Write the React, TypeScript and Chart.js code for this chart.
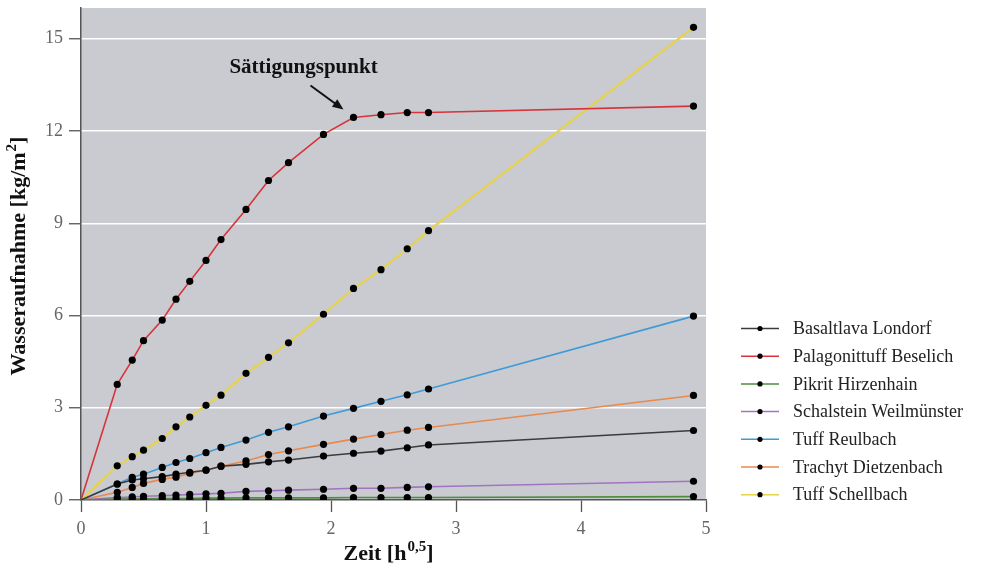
import React, { useEffect, useRef } from "react";
import { Chart, registerables } from "chart.js";

Chart.register(...registerables);

// x values: square root of time [h^0,5]
const timeSqrt = [0, 0.29, 0.41, 0.5, 0.65, 0.76, 0.87, 1.0, 1.12, 1.32, 1.5, 1.66, 1.94, 2.18, 2.4, 2.61, 2.78, 4.9];

const basaltlavaLondorf = [0, 0.52, 0.65, 0.69, 0.76, 0.84, 0.9, 0.97, 1.1, 1.16, 1.24, 1.3, 1.43, 1.52, 1.59, 1.7, 1.79, 2.26];
const palagonittuffBeselich = [0, 3.76, 4.55, 5.18, 5.85, 6.53, 7.11, 7.79, 8.47, 9.45, 10.39, 10.97, 11.89, 12.44, 12.53, 12.6, 12.6, 12.81];
const pikritHirzenhain = [0, 0.03, 0.04, 0.04, 0.05, 0.05, 0.05, 0.06, 0.06, 0.07, 0.07, 0.07, 0.07, 0.08, 0.08, 0.08, 0.08, 0.11];
const schalsteinWeilmuenster = [0, 0.08, 0.1, 0.12, 0.14, 0.16, 0.18, 0.2, 0.22, 0.28, 0.3, 0.32, 0.35, 0.38, 0.38, 0.41, 0.43, 0.61];
const tuffReulbach = [0, 0.52, 0.74, 0.84, 1.06, 1.22, 1.35, 1.54, 1.71, 1.95, 2.2, 2.38, 2.73, 2.98, 3.21, 3.42, 3.61, 5.98];
const trachytDietzenbach = [0, 0.25, 0.41, 0.54, 0.67, 0.74, 0.87, 0.97, 1.1, 1.27, 1.48, 1.6, 1.81, 1.98, 2.13, 2.27, 2.36, 3.4];
const tuffSchellbach = [0, 1.11, 1.41, 1.62, 2.0, 2.38, 2.7, 3.08, 3.41, 4.12, 4.64, 5.11, 6.04, 6.88, 7.49, 8.17, 8.76, 15.37];

const seriesLabels = [
  "Basaltlava Londorf",
  "Palagonittuff Beselich",
  "Pikrit Hirzenhain",
  "Schalstein Weilmünster",
  "Tuff Reulbach",
  "Trachyt Dietzenbach",
  "Tuff Schellbach",
];
const seriesValues = [
  basaltlavaLondorf,
  palagonittuffBeselich,
  pikritHirzenhain,
  schalsteinWeilmuenster,
  tuffReulbach,
  trachytDietzenbach,
  tuffSchellbach,
];
const seriesColors = ["#3c3c3c", "#d6343a", "#4e8c3e", "#a273c2", "#3f9bd6", "#e8894e", "#e6d24c"];

const xTicks = [0, 1, 2, 3, 4, 5];
const yTicks = [0, 3, 6, 9, 12, 15];

const annotationText = "Sättigungspunkt";
const annotationSeries = 1;
const annotationIndex = 13;

const SERIF = '"Liberation Serif", "Times New Roman", serif';

export default function App() {
  const ref = useRef<HTMLCanvasElement>(null);

  useEffect(() => {
    const canvas = ref.current;
    if (!canvas) return;

    const decorPlugin = {
      id: "decor",
      beforeDraw(chart: any) {
        const { ctx, chartArea } = chart;
        ctx.save();
        ctx.fillStyle = "#c9cbd0";
        ctx.fillRect(chartArea.left, chartArea.top, chartArea.right - chartArea.left, chartArea.bottom - chartArea.top);
        ctx.restore();
      },
      afterDraw(chart: any) {
        const { ctx, chartArea } = chart;
        ctx.save();
        ctx.fillStyle = "#111";
        ctx.textBaseline = "alphabetic";

        // X title: Zeit [h^0,5]
        const big = `bold 22px ${SERIF}`;
        const small = `bold 15px ${SERIF}`;
        ctx.font = big;
        const p1 = "Zeit [h";
        const p3 = "]";
        const w1 = ctx.measureText(p1).width;
        const w3 = ctx.measureText(p3).width;
        ctx.font = small;
        const p2 = "0,5";
        const w2 = ctx.measureText(p2).width + 1;
        const total = w1 + w2 + w3;
        const cx = (chartArea.left + chartArea.right) / 2 - 5;
        let x = cx - total / 2;
        const by = 560;
        ctx.textAlign = "left";
        ctx.font = big;
        ctx.fillText(p1, x, by);
        x += w1 + 1;
        ctx.font = small;
        ctx.fillText(p2, x, by - 9);
        x += w2 - 1;
        ctx.font = big;
        ctx.fillText(p3, x, by);

        // Y title: Wasseraufnahme [kg/m^2]
        ctx.save();
        ctx.translate(25, (chartArea.top + chartArea.bottom) / 2 + 2);
        ctx.rotate(-Math.PI / 2);
        const q1 = "Wasseraufnahme [kg/m";
        const q2 = "2";
        const q3 = "]";
        ctx.font = big;
        const v1 = ctx.measureText(q1).width;
        const v3 = ctx.measureText(q3).width;
        ctx.font = small;
        const v2 = ctx.measureText(q2).width + 1;
        let yx = -(v1 + v2 + v3) / 2;
        ctx.font = big;
        ctx.fillText(q1, yx, 0);
        yx += v1 + 1;
        ctx.font = small;
        ctx.fillText(q2, yx, -9);
        yx += v2 - 1;
        ctx.font = big;
        ctx.fillText(q3, yx, 0);
        ctx.restore();

        // Annotation anchored at the saturation point
        const pt = chart.getDatasetMeta(annotationSeries).data[annotationIndex];
        if (pt) {
          const px = pt.x;
          const py = pt.y;
          ctx.font = `bold 21px ${SERIF}`;
          ctx.textAlign = "center";
          ctx.textBaseline = "middle";
          ctx.fillText(annotationText, px - 50, py - 50);
          const sx = px - 43, sy = py - 32, ex = px - 10, ey = py - 8;
          ctx.strokeStyle = "#111";
          ctx.lineWidth = 2;
          ctx.beginPath();
          ctx.moveTo(sx, sy);
          ctx.lineTo(ex - 6, ey - 4.2);
          ctx.stroke();
          const ang = Math.atan2(ey - sy, ex - sx);
          const L = 11, W = 4.5;
          ctx.beginPath();
          ctx.moveTo(ex, ey);
          ctx.lineTo(ex - L * Math.cos(ang) + W * Math.sin(ang), ey - L * Math.sin(ang) - W * Math.cos(ang));
          ctx.lineTo(ex - L * Math.cos(ang) - W * Math.sin(ang), ey - L * Math.sin(ang) + W * Math.cos(ang));
          ctx.closePath();
          ctx.fillStyle = "#111";
          ctx.fill();
        }

        // Legend
        const lx0 = 741, lx1 = 779, tx = 793, ly0 = 328.5, dy = 27.7;
        ctx.textAlign = "left";
        ctx.textBaseline = "middle";
        ctx.font = `18px ${SERIF}`;
        seriesLabels.forEach((label, i) => {
          const ly = ly0 + i * dy;
          ctx.strokeStyle = seriesColors[i];
          ctx.lineWidth = 1.5;
          ctx.beginPath();
          ctx.moveTo(lx0, ly);
          ctx.lineTo(lx1, ly);
          ctx.stroke();
          ctx.fillStyle = "#000";
          ctx.beginPath();
          ctx.arc((lx0 + lx1) / 2, ly, 2.6, 0, Math.PI * 2);
          ctx.fill();
          ctx.fillStyle = "#222";
          ctx.fillText(label, tx, ly + 1);
        });
        ctx.restore();
      },
    };

    const datasets = seriesLabels.map((label, s) => ({
      label,
      data: timeSqrt.map((x, i) => ({ x, y: seriesValues[s][i] })),
      borderColor: seriesColors[s],
      backgroundColor: "#000",
      pointBackgroundColor: "#000",
      pointBorderColor: "#000",
      pointBorderWidth: 0,
      pointRadius: timeSqrt.map((x) => (x === 0 ? 0 : 3.6)),
      borderWidth: s === 6 ? 2.2 : 1.6,
      tension: 0,
      fill: false,
    }));

    const chart = new Chart(canvas, {
      type: "line",
      data: { datasets },
      options: {
        animation: false,
        responsive: true,
        maintainAspectRatio: false,
        layout: { padding: { top: 8, right: 275, left: 0, bottom: 0 } },
        plugins: {
          legend: { display: false },
          tooltip: { enabled: false },
          title: { display: false },
        },
        scales: {
          x: {
            type: "linear",
            min: 0,
            max: 5,
            afterBuildTicks: (s: any) => {
              s.ticks = xTicks.map((v) => ({ value: v }));
            },
            afterFit: (s: any) => {
              s.height = 67;
              s.paddingLeft = 0;
              s.paddingRight = 0;
            },
            grid: {
              drawOnChartArea: false,
              tickLength: 12,
              tickColor: "#555",
              tickWidth: 1.3,
            },
            border: { color: "#555", width: 1.5 },
            ticks: {
              font: { family: SERIF, size: 18 },
              color: "#666",
              padding: 6,
              maxRotation: 0,
            },
          },
          y: {
            type: "linear",
            min: 0,
            max: 16,
            afterBuildTicks: (s: any) => {
              s.ticks = yTicks.map((v) => ({ value: v }));
            },
            afterFit: (s: any) => {
              s.width = 81;
              s.paddingTop = 0;
              s.paddingBottom = 0;
            },
            grid: {
              color: (c: any) => (c.tick && c.tick.value === 0 ? "rgba(0,0,0,0)" : "#ffffff"),
              lineWidth: 1.5,
              tickLength: 12,
              tickColor: "#555",
              tickWidth: 1.3,
            },
            border: { color: "#555", width: 1.5 },
            ticks: {
              font: { family: SERIF, size: 18 },
              color: "#666",
              padding: 6,
            },
          },
        },
      },
      plugins: [decorPlugin],
    } as any);

    return () => chart.destroy();
  }, []);

  return (
    <div style={{ position: "fixed", left: 0, top: 0, width: 981, height: 567, background: "#fff" }}>
      <canvas ref={ref} />
    </div>
  );
}
